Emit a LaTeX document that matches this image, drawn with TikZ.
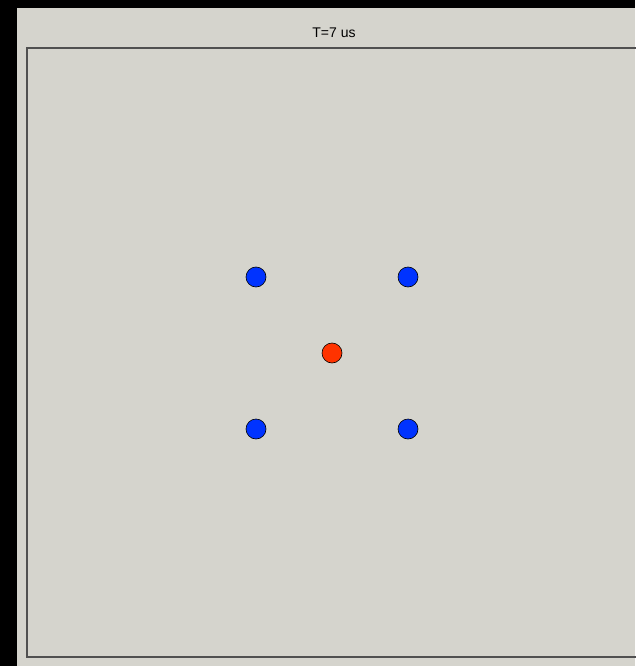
\documentclass[tikz,border=0pt]{standalone}
\usepackage{fontspec}
\setmainfont{Liberation Sans}
\usepackage{tikz}
\usepackage{xcolor}
\usetikzlibrary{positioning}
\definecolor{simbg}{HTML}{D5D4CD}
\definecolor{simframe}{HTML}{505050}
\definecolor{ionblue}{HTML}{0033FF}
\definecolor{ionred}{HTML}{FF3300}

\begin{document}
\begin{tikzpicture}[x=1pt, y=-1pt,
    ion/.style={circle, draw=black, line width=0.6pt, minimum size=20pt, inner sep=0pt}]
\useasboundingbox (0,0) rectangle (635,666);
\fill[black] (0,0) rectangle (635,666);
\fill[simbg] (17,8) rectangle (635,666);
\draw[simframe, line width=1.2pt] (640,48) -- (27,48) -- (27,657) -- (640,657);
\node[font=\fontsize{14}{16}\selectfont] (title) at (334,33) {T=7 us};
% outer ions
\foreach \px/\py [count=\i] in {256/277, 408/277, 256/429, 408/429}
{
    \node[ion, fill=ionblue] (blue\i) at (\px,\py) {};
}
\node[ion, fill=ionred] (center) at (332,353) {};
\end{tikzpicture}
\end{document}
